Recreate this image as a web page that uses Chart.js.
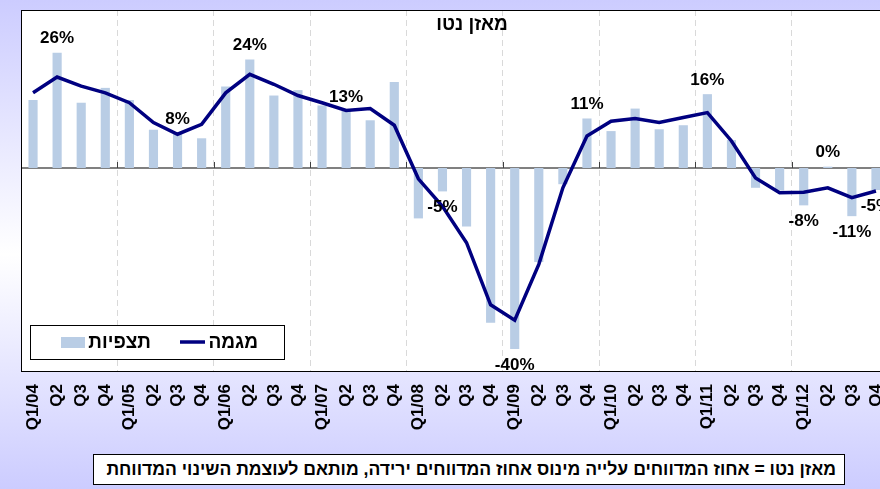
<!DOCTYPE html>
<html>
<head>
<meta charset="utf-8">
<script src="https://cdn.jsdelivr.net/npm/chart.js@4/dist/chart.umd.min.js"></script>
<style>
  html, body { margin: 0; padding: 0; }
  body {
    width: 880px; height: 489px; overflow: hidden; position: relative;
    background: linear-gradient(to bottom, #ccccff 0%, #ffffff 52%, #ccccff 100%);
    font-family: "Liberation Sans", Arial, sans-serif;
  }
  #chart { position: absolute; left: 0; top: 0; }
  #note {
    position: absolute; left: 93px; top: 454px; width: 750px; height: 29px;
    background: #fff; border: 1px solid #000; box-sizing: content-box;
    direction: rtl; text-align: right; font-weight: bold; font-size: 17.6px;
    line-height: 29px; white-space: nowrap; overflow: hidden;
  }
  #note span { margin-right: 8px; }
</style>
</head>
<body>
<canvas id="chart" width="900" height="489"></canvas>
<div id="note"><span>מאזן נטו = אחוז המדווחים עלייה מינוס אחוז המדווחים ירידה, מותאם לעוצמת השינוי המדווחת</span></div>
<script>
// quarters Q1/04 .. Q4/12
const quarters = [
  'Q1/04','Q2','Q3','Q4','Q1/05','Q2','Q3','Q4','Q1/06','Q2','Q3','Q4',
  'Q1/07','Q2','Q3','Q4','Q1/08','Q2','Q3','Q4','Q1/09','Q2','Q3','Q4',
  'Q1/10','Q2','Q3','Q4','Q1/11','Q2','Q3','Q4','Q1/12','Q2','Q3','Q4'
];
// תצפיות (bars)
const observations = [
  15.1, 25.6, 14.5, 17.8, 15.1, 8.5, 7.6, 6.6, 18.1, 24.1, 16.1, 17.3,
  13.9, 12.7, 10.6, 19.1, -11.2, -5.2, -13.0, -34.4, -40.2, -20.9, -3.6, 11.0,
  8.2, 13.2, 8.6, 9.5, 16.4, 6.2, -4.4, -5.0, -8.3, 0.3, -10.7, -4.9
];
// מגמה (line)
const trend = [
  16.7, 20.2, 18.2, 16.7, 14.5, 10.1, 7.5, 9.7, 16.7, 20.8, 18.6, 16.1,
  14.5, 12.8, 13.2, 9.5, -2.4, -8.5, -16.6, -30.4, -33.8, -21.4, -4.4, 7.1,
  10.4, 11.0, 10.1, 11.2, 12.3, 6.0, -2.2, -5.5, -5.4, -4.4, -6.6, -5.1
];
// quarters whose bar carries a % label
const labelledPoints = [1, 6, 9, 13, 17, 20, 23, 28, 32, 33, 34, 35];

const chartTitle = 'מאזן נטו';
const barName = 'תצפיות';
const lineName = 'מגמה';

const FONT = '"Liberation Sans", Arial, sans-serif';

const decorations = {
  id: 'decorations',
  beforeDraw(chart) {
    const {ctx, chartArea: a} = chart;
    ctx.save();
    ctx.fillStyle = '#ffffff';
    ctx.fillRect(a.left, a.top, a.right - a.left, a.bottom - a.top);
    ctx.restore();
  },
  beforeDatasetsDraw(chart) {
    const {ctx, chartArea: a, scales} = chart;
    const y0 = scales.y.getPixelForValue(0);
    ctx.save();
    ctx.strokeStyle = '#808080';
    ctx.lineWidth = 2;
    ctx.beginPath();
    ctx.moveTo(a.left, y0);
    ctx.lineTo(a.right, y0);
    ctx.stroke();
    // small ticks at each new year
    ctx.strokeStyle = '#404040';
    ctx.lineWidth = 1;
    const step = (a.right - a.left) / quarters.length;
    for (let i = 4; i < quarters.length; i += 4) {
      const x = Math.round(scales.x.getPixelForValue(i) - step / 2) + 0.5;
      ctx.beginPath();
      ctx.moveTo(x, y0 - 6);
      ctx.lineTo(x, y0);
      ctx.stroke();
    }
    ctx.restore();
  },
  afterDraw(chart) {
    const {ctx, chartArea: a} = chart;
    ctx.save();
    // plot frame
    ctx.strokeStyle = '#000';
    ctx.lineWidth = 1;
    ctx.strokeRect(a.left + 0.5, a.top + 0.5, a.right - a.left, a.bottom - a.top);

    // title
    ctx.fillStyle = '#000';
    ctx.font = 'bold 19px ' + FONT;
    ctx.direction = 'rtl';
    ctx.textAlign = 'center';
    ctx.textBaseline = 'middle';
    ctx.fillText(chartTitle, 472, 25);

    // value labels
    const bars = chart.getDatasetMeta(0).data;
    ctx.font = 'bold 17px ' + FONT;
    ctx.direction = 'ltr';
    labelledPoints.forEach(i => {
      const v = observations[i];
      const bar = bars[i];
      const y = v >= 0 ? bar.y - 14 : bar.y + 16;
      ctx.fillText(Math.round(v) + '%', bar.x, y);
    });

    // legend
    const ds = chart.data.datasets;
    ctx.fillStyle = '#fff';
    ctx.fillRect(30, 325, 254, 34);
    ctx.strokeStyle = '#000';
    ctx.strokeRect(30.5, 325.5, 254, 34);
    ctx.fillStyle = ds[0].backgroundColor;
    ctx.fillRect(61, 337, 24, 11);
    ctx.strokeStyle = ds[1].borderColor;
    ctx.lineWidth = 3.5;
    ctx.beginPath();
    ctx.moveTo(180, 342);
    ctx.lineTo(205, 342);
    ctx.stroke();
    ctx.fillStyle = '#000';
    ctx.font = 'bold 19px ' + FONT;
    ctx.direction = 'rtl';
    ctx.textAlign = 'right';
    ctx.fillText(ds[0].label, 151, 343);
    ctx.fillText(ds[1].label, 258, 343);
    ctx.restore();
  }
};

new Chart(document.getElementById('chart'), {
  data: {
    labels: quarters,
    datasets: [
      {
        type: 'bar',
        label: barName,
        data: observations,
        backgroundColor: '#b9cde5',
        barPercentage: 0.38,
        categoryPercentage: 1,
        order: 1
      },
      {
        type: 'line',
        label: lineName,
        data: trend,
        borderColor: '#000080',
        borderWidth: 3.5,
        pointRadius: 0,
        tension: 0,
        order: 0
      }
    ]
  },
  options: {
    responsive: false,
    animation: false,
    layout: { padding: { left: 21, top: 10, right: 12, bottom: 0 } },
    plugins: {
      legend: { display: false },
      tooltip: { enabled: false },
      title: { display: false }
    },
    scales: {
      x: {
        offset: true,
        grid: {
          offset: true,
          drawTicks: false,
          color: c => (c.index % 4 === 0 && c.index > 0) ? '#d9d9d9' : 'transparent',
          lineWidth: 1
        },
        border: { display: false, dash: [6, 4] },
        ticks: {
          autoSkip: false,
          minRotation: 90,
          maxRotation: 90,
          padding: 13,
          color: '#000',
          font: { family: FONT, size: 17, weight: 'bold' }
        },
        afterFit: axis => {
          axis.height = 118;
          axis.paddingLeft = 0;
          axis.paddingRight = 0;
        }
      },
      y: {
        display: false,
        min: -45.1,
        max: 35.1
      }
    }
  },
  plugins: [decorations]
});
</script>
</body>
</html>
